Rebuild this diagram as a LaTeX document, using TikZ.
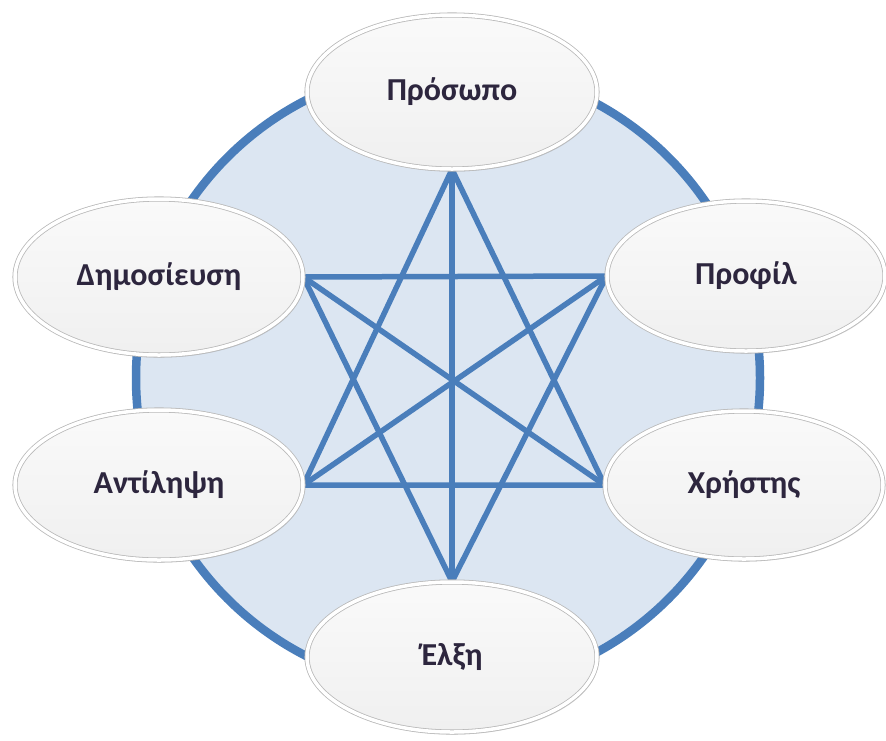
\documentclass[tikz,border=0pt]{standalone}
\usepackage{fontspec}
\setmainfont{Carlito}
\usetikzlibrary{shapes.geometric,backgrounds,shadows}
\definecolor{ringblue}{RGB}{74,126,187}
\definecolor{ringfill}{RGB}{220,230,242}
\definecolor{txtcol}{RGB}{45,38,62}
\definecolor{rimgray}{RGB}{185,185,185}
\tikzset{
  bubble/.style={ellipse, inner sep=0pt,
    draw=rimgray, line width=0.8pt, double=white, double distance=3.5pt,
    top color=black!2, bottom color=black!6,
    drop shadow={shadow xshift=1.5pt, shadow yshift=-2.5pt, opacity=0.25, fill=black!60},
    text=txtcol, font=\fontsize{32}{38}\selectfont\bfseries},
  ring/.style={draw=ringblue, line width=8.5pt, fill=ringfill},
  starline/.style={draw=ringblue, line width=5.5pt, line join=miter, line cap=butt}
}
\begin{document}
\begin{tikzpicture}[x=1pt,y=-1pt]
\useasboundingbox (0,0) rectangle (886,740);
\node[bubble, minimum width=290pt, minimum height=154pt] (P) at (452,92) {Πρόσωπο};
\node[bubble, minimum width=288pt, minimum height=156pt] (D) at (159,277) {Δημοσίευση};
\node[bubble, minimum width=278pt, minimum height=150pt] (Pr) at (746,276) {Προφίλ};
\node[bubble, minimum width=288pt, minimum height=150pt] (A) at (159,485) {Αντίληψη};
\node[bubble, minimum width=278pt, minimum height=148pt] (X) at (744,485) {Χρήστης};
\node[bubble, minimum width=290pt, minimum height=150pt] (E) at (452,657) {Έλξη};
\begin{pgfonlayer}{background}
\draw[ring] (448,378) circle[radius=312pt];
\draw[starline] (P.south) -- (A.east) -- (X.west) -- cycle;
\draw[starline] (E.north) -- (D.east) -- (Pr.west) -- cycle;
\draw[starline] (P.south) -- (E.north);
\draw[starline] (D.east) -- (X.west);
\draw[starline] (Pr.west) -- (A.east);
\end{pgfonlayer}
\end{tikzpicture}
\end{document}
